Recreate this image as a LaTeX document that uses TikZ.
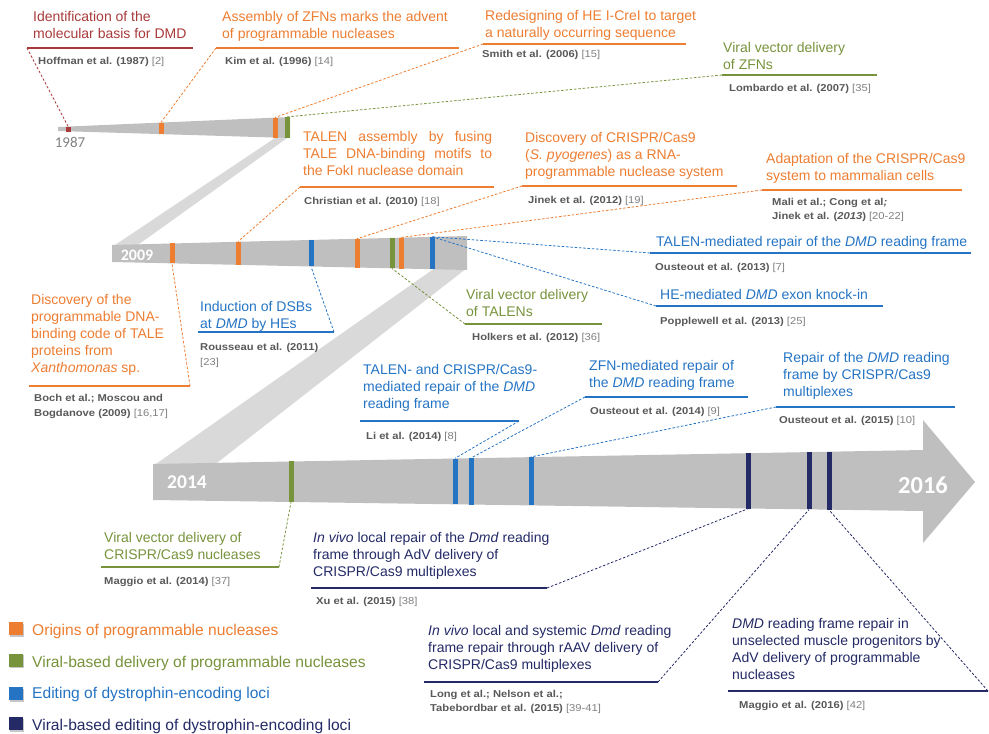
\documentclass[tikz,border=0pt]{standalone}
\usepackage{fontspec}
\setmainfont{Liberation Sans}
\newfontfamily\citefont[FakeStretch=1.12]{Liberation Sans}
\newfontfamily\yrfont{Carlito}
\usetikzlibrary{shadows}
\definecolor{dred}{HTML}{A93A3A}
\definecolor{orng}{HTML}{ED7D31}
\definecolor{grn}{HTML}{77933C}
\definecolor{blu}{HTML}{2574C4}
\definecolor{navy}{HTML}{232A66}
\definecolor{bargray}{HTML}{BFBFBF}
\definecolor{bandgray}{HTML}{D9D9D9}
\definecolor{citegray}{HTML}{595959}
\definecolor{refgray}{HTML}{808080}
\newcommand\rf[1]{\textcolor{refgray}{\mdseries[#1]}}
\tikzset{
  lab/.style={anchor=north west, inner sep=0pt, align=left, font=\fontsize{14}{17}\selectfont},
  ct/.style={anchor=north west, inner sep=0pt, align=left, text=citegray, font=\citefont\fontsize{10}{14.5}\selectfont},
  ul/.style={line width=1.4pt},
  ld/.style={line width=0.8pt, dash pattern=on 2.5pt off 1.8pt},
  mk/.style={rectangle, inner sep=0pt, minimum width=5pt, draw=none},
  yr/.style={inner sep=0pt, text=white},
  lgsq/.style={rectangle, inner sep=0pt, minimum width=14pt, minimum height=13pt, draw=none,
     drop shadow={shadow xshift=1pt, shadow yshift=-1.5pt, opacity=0.45}},
  lgt/.style={anchor=base west, inner sep=0pt, font=\fontsize{15.6}{18}\selectfont},
}
\begin{document}
\begin{tikzpicture}[x=1pt,y=-1pt]
\useasboundingbox (0,0) rectangle (989,734);
% bands
\fill[bandgray] (278,136) -- (290,136) -- (135,247) -- (112,247) -- cycle;
\fill[bandgray] (435,268) -- (467,268) -- (213,466) -- (153,466) -- cycle;
% bars
\fill[bargray] (58,127) -- (290,117) -- (290,138) -- (58,131) -- cycle;
\fill[bargray] (112,245) -- (467,236) -- (467,270) -- (112,262) -- cycle;
\fill[bargray] (153,464) -- (923,450) -- (923,420) -- (975,482) -- (923,543) -- (923,511) -- (153,500) -- cycle;
% years
\node[text=refgray, inner sep=0pt, font=\yrfont\fontsize{15}{15}\selectfont] (y87) at (70,142) {1987};
\node[yr, font=\yrfont\bfseries\fontsize{16}{16}\selectfont] (y09) at (137,255) {2009};
\node[yr, font=\yrfont\bfseries\fontsize{19.5}{19.5}\selectfont] (y14) at (187,482) {2014};
\node[yr, font=\yrfont\bfseries\fontsize{24.5}{24.5}\selectfont] (y16) at (923,485) {2016};
% markers bar 1
\node[mk, fill=dred, minimum height=5pt] (m1) at (68,129) {};
\node[mk, fill=orng, minimum height=11.5pt] (m2) at (161,128.4) {};
\node[mk, fill=orng, minimum height=19.9pt] (m3) at (275,127.6) {};
\node[mk, fill=grn, minimum height=20.8pt] (m4) at (287,127.5) {};
% markers bar 2
\node[mk, fill=orng, minimum height=19.9pt] (n1) at (172,253.4) {};
\node[mk, fill=orng, minimum height=23pt] (n2) at (238,253.3) {};
\node[mk, fill=blu, minimum height=26.5pt] (n3) at (311,253.2) {};
\node[mk, fill=orng, minimum height=28.7pt] (n4) at (357,253.2) {};
\node[mk, fill=grn, minimum height=30.4pt] (n5) at (392,253.1) {};
\node[mk, fill=orng, minimum height=30.8pt] (n6) at (401,253.1) {};
\node[mk, fill=blu, minimum height=32.3pt] (n7) at (432,253.1) {};
% markers bar 3
\node[mk, fill=grn, minimum height=40.5pt] (p1) at (291,481.7) {};
\node[mk, fill=blu, minimum height=45.8pt] (p2) at (455,481.4) {};
\node[mk, fill=blu, minimum height=46.3pt] (p3) at (471,481.35) {};
\node[mk, fill=blu, minimum height=48.3pt] (p4) at (531,481.25) {};
\node[mk, fill=navy, minimum height=55.3pt] (p5) at (748,480.85) {};
\node[mk, fill=navy, minimum height=57.3pt] (p6) at (809,480.75) {};
\node[mk, fill=navy, minimum height=58pt] (p7) at (829,480.7) {};

% ---- annotations ----
% 1
\node[lab, text=dred] (t1) at (33,11.5) {Identification of the\\molecular basis for DMD};
\draw[ul, draw=dred] (27,48) coordinate (u1l) -- (193,48) coordinate (u1r);
\node[ct] (c1) at (38,57.5) {\textbf{Hoffman et al. (1987)} \rf{2}};
\draw[ld, draw=dred] (u1l) -- (m1.north);
% 2
\node[lab, text=orng] (t2) at (222,11.2) {Assembly of ZFNs marks the advent\\of programmable nucleases};
\draw[ul, draw=orng] (216,48) coordinate (u2l) -- (459,48) coordinate (u2r);
\node[ct] (c2) at (225,57.5) {\textbf{Kim et al. (1996)} \rf{14}};
\draw[ld, draw=orng] (u2l) -- (m2.north);
% 3
\node[lab, text=orng] (t3) at (485,10.5) {Redesigning of HE I-CreI to target\\a naturally occurring sequence};
\draw[ul, draw=orng] (483,44) coordinate (u3l) -- (686,44) coordinate (u3r);
\node[ct] (c3) at (482,50.5) {\textbf{Smith et al. (2006)} \rf{15}};
\draw[ld, draw=orng] (u3l) -- (m3.north);
% 4
\node[lab, text=grn] (t4) at (723,42.2) {Viral vector delivery\\of ZFNs};
\draw[ul, draw=grn] (722,75) coordinate (u4l) -- (877,75) coordinate (u4r);
\node[ct] (c4) at (729,84) {\textbf{Lombardo et al. (2007)} \rf{35}};
\draw[ld, draw=grn] (u4l) -- (m4.north);
% 5
\node[lab, text=orng] (t5) at (303,131.2) {\makebox[189pt][s]{TALEN assembly by fusing}\\\makebox[189pt][s]{TALE DNA-binding motifs to}\\the FokI nuclease domain};
\draw[ul, draw=orng] (300,187) coordinate (u5l) -- (494,187) coordinate (u5r);
\node[ct] (c5) at (304,197.3) {\textbf{Christian et al. (2010)} \rf{18}};
\draw[ld, draw=orng] (u5l) -- (n2.north);
% 6
\node[lab, text=orng] (t6) at (525,131.8) {Discovery of CRISPR/Cas9\\(\textit{S. pyogenes}) as a RNA-\\programmable nuclease system};
\draw[ul, draw=orng] (522,186) coordinate (u6l) -- (737,186) coordinate (u6r);
\node[ct] (c6) at (528,196) {\textbf{Jinek et al. (2012)} \rf{19}};
\draw[ld, draw=orng] (u6l) -- (n4.north);
% 7
\node[lab, text=orng] (t7) at (766,152.8) {Adaptation of the CRISPR/Cas9\\system to mammalian cells};
\draw[ul, draw=orng] (762,190) coordinate (u7l) -- (962,190) coordinate (u7r);
\node[ct] (c7) at (772,198) {\textbf{Mali et al.; Cong et al\textit{;}}\\\textbf{Jinek et al. (\textit{2013})} \rf{20-22}};
\draw[ld, draw=orng] (u7l) -- (n6.north);
% 8
\node[lab, text=blu] (t8) at (656,236.5) {TALEN-mediated repair of the \textit{DMD} reading frame};
\draw[ul, draw=blu] (650,253) coordinate (u8l) -- (971,253) coordinate (u8r);
\node[ct] (c8) at (655,262.7) {\textbf{Ousteout et al. (2013)} \rf{7}};
\draw[ld, draw=blu] (u8l) -- (n7.north);
% 9
\node[lab, text=blu] (t9) at (660,289.5) {HE-mediated \textit{DMD} exon knock-in};
\draw[ul, draw=blu] (656,306) coordinate (u9l) -- (883,306) coordinate (u9r);
\node[ct] (c9) at (660,316.7) {\textbf{Popplewell et al. (2013)} \rf{25}};
\draw[ld, draw=blu] (u9l) -- (n7.north);
% 10
\node[lab, text=orng] (t10) at (31,294.5) {Discovery of the\\programmable DNA-\\binding code of TALE\\proteins from\\\textit{Xanthomonas} sp.};
\draw[ul, draw=orng] (29,386) coordinate (u10l) -- (190,386) coordinate (u10r);
\node[ct] (c10) at (34,394.3) {\textbf{Boch et al.; Moscou and}\\\textbf{Bogdanove (2009)} \rf{16,17}};
\draw[ld, draw=orng] (u10r) -- (n1.south);
% 11
\node[lab, text=blu] (t11) at (200,301.2) {Induction of DSBs\\at \textit{DMD} by HEs};
\draw[ul, draw=blu] (198,332) coordinate (u11l) -- (334,332) coordinate (u11r);
\node[ct] (c11) at (200,343.3) {\textbf{Rousseau et al. (2011)}\\\rf{23}};
\draw[ld, draw=blu] (u11r) -- (n3.south);
% 12
\node[lab, text=grn] (t12) at (466,289.5) {Viral vector delivery\\of TALENs};
\draw[ul, draw=grn] (465,324) coordinate (u12l) -- (602,324) coordinate (u12r);
\node[ct] (c12) at (472,333.3) {\textbf{Holkers et al. (2012)} \rf{36}};
\draw[ld, draw=grn] (u12l) -- (n5.south);
% 13
\node[lab, text=blu] (t13) at (363,364.5) {TALEN- and CRISPR/Cas9-\\mediated repair of the \textit{DMD}\\reading frame};
\draw[ul, draw=blu] (360,421) coordinate (u13l) -- (519,421) coordinate (u13r);
\node[ct] (c13) at (366,431.7) {\textbf{Li et al. (2014)} \rf{8}};
\draw[ld, draw=blu] (u13r) -- (p2.north);
% 14
\node[lab, text=blu] (t14) at (589,360.5) {ZFN-mediated repair of\\the \textit{DMD} reading frame};
\draw[ul, draw=blu] (585,397) coordinate (u14l) -- (748,397) coordinate (u14r);
\node[ct] (c14) at (590,406.7) {\textbf{Ousteout et al. (2014)} \rf{9}};
\draw[ld, draw=blu] (u14l) -- (p3.north);
% 15
\node[lab, text=blu] (t15) at (783,352.5) {Repair of the \textit{DMD} reading\\frame by CRISPR/Cas9\\multiplexes};
\draw[ul, draw=blu] (776,407) coordinate (u15l) -- (955,407) coordinate (u15r);
\node[ct] (c15) at (779,415.7) {\textbf{Ousteout et al. (2015)} \rf{10}};
\draw[ld, draw=blu] (u15l) -- (p4.north);
% 16
\node[lab, text=grn] (t16) at (104,532.5) {Viral vector delivery of\\CRISPR/Cas9 nucleases};
\draw[ul, draw=grn] (101,567) coordinate (u16l) -- (279,567) coordinate (u16r);
\node[ct] (c16) at (104,577.3) {\textbf{Maggio et al. (2014)} \rf{37}};
\draw[ld, draw=grn] (u16r) -- (p1.south);
% 17
\node[lab, text=navy] (t17) at (313,532.5) {\textit{In vivo} local repair of the \textit{Dmd} reading\\frame through AdV delivery of\\CRISPR/Cas9 multiplexes};
\draw[ul, draw=navy] (311,588) coordinate (u17l) -- (547,588) coordinate (u17r);
\node[ct] (c17) at (316,597.3) {\textbf{Xu et al. (2015)} \rf{38}};
\draw[ld, draw=navy] (u17r) -- (p5.south);
% 18
\node[lab, text=navy] (t18) at (428,625.5) {\textit{In vivo} local and systemic \textit{Dmd} reading\\frame repair through rAAV delivery of\\CRISPR/Cas9 multiplexes};
\draw[ul, draw=navy] (424,682) coordinate (u18l) -- (658,682) coordinate (u18r);
\node[ct] (c18) at (430,690) {\textbf{Long et al.; Nelson et al.;}\\\textbf{Tabebordbar et al. (2015)} \rf{39-41}};
\draw[ld, draw=navy] (u18r) -- (p6.south);
% 19
\node[lab, text=navy] (t19) at (732,618.5) {\textit{DMD} reading frame repair in\\unselected muscle progenitors by\\AdV delivery of programmable\\nucleases};
\draw[ul, draw=navy] (728,691) coordinate (u19l) -- (988,691) coordinate (u19r);
\node[ct] (c19) at (739,700.7) {\textbf{Maggio et al. (2016)} \rf{42}};
\draw[ld, draw=navy] (u19r) -- (p7.south);

% legend
\node[lgsq, fill=orng] (l1) at (15.5,628.5) {};
\node[lgt, text=orng] (lt1) at (32,635) {Origins of programmable nucleases};
\node[lgsq, fill=grn] (l2) at (15.5,660) {};
\node[lgt, text=grn] (lt2) at (32,667) {Viral-based delivery of programmable nucleases};
\node[lgsq, fill=blu] (l3) at (15.5,693.5) {};
\node[lgt, text=blu] (lt3) at (32,698) {Editing of dystrophin-encoding loci};
\node[lgsq, fill=navy] (l4) at (15.5,723.5) {};
\node[lgt, text=navy] (lt4) at (32,730) {Viral-based editing of dystrophin-encoding loci};
\end{tikzpicture}
\end{document}
